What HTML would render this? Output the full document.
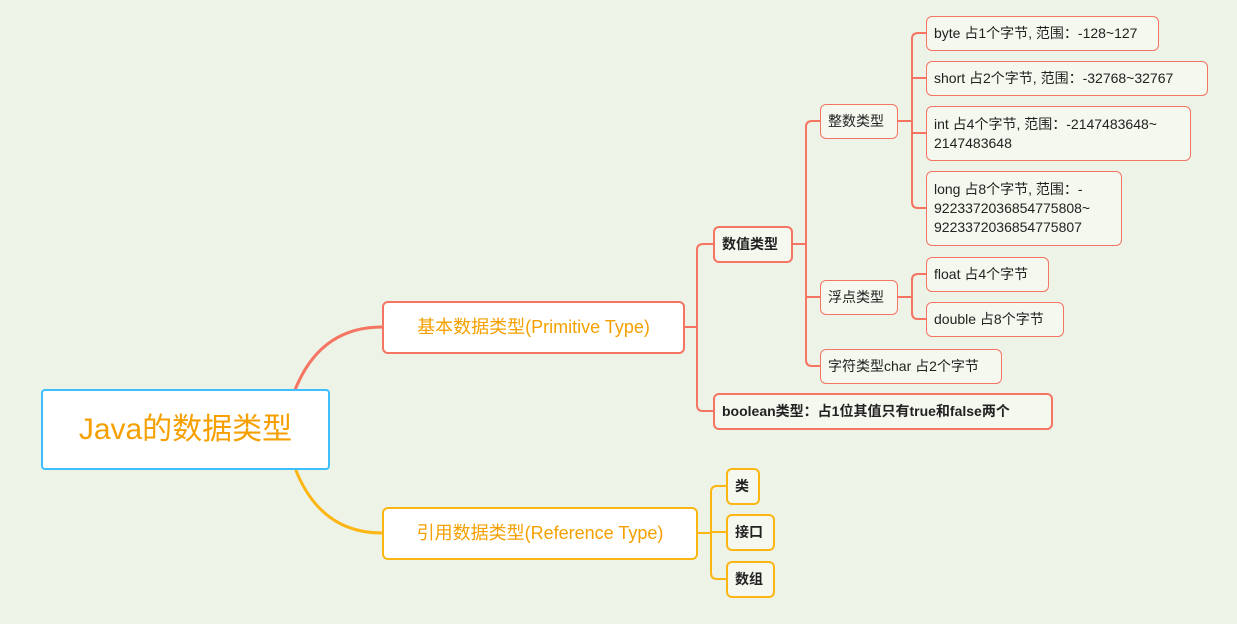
<!DOCTYPE html>
<html><head><meta charset="utf-8"><style>
body{margin:0;width:1237px;height:624px;background:#edf3e6;position:relative;overflow:hidden;font-family:"Liberation Sans","Noto Sans CJK SC",sans-serif;}
.b{position:absolute;box-sizing:border-box;display:flex;align-items:center;padding-left:7px;color:#222;font-size:14px;background:#f4f8ee;border:1px solid #f57462;border-radius:6px;line-height:19px;}
.t{font-weight:bold;border-width:2px;}
.y{border-color:#fbb614;font-weight:bold;border-width:2px;}
svg{position:absolute;left:0;top:0}
</style></head><body>
<svg width="1237" height="624" fill="none">
<path d="M295 390 Q320 327 382 327" stroke="#f57462" stroke-width="3"/>
<path d="M295 468 Q320 533 382 533" stroke="#fbb614" stroke-width="3"/>
<g stroke="#f57462" stroke-width="2">
<path d="M684 327 H697 M713 244 H703 Q697 244 697 250 V405 Q697 411 703 411 H713"/>
<path d="M792 244 H806 M820 121 H812 Q806 121 806 127 V360 Q806 366 812 366 H820 M806 297 H820"/>
<path d="M897 121 H912 M926 33 H918 Q912 33 912 39 V202 Q912 208 918 208 H926 M912 78 H926 M912 133 H926"/>
<path d="M897 297 H912 M926 274 H918 Q912 274 912 280 V313 Q912 319 918 319 H926"/>
</g>
<path d="M697 533 H711 M726 486 H717 Q711 486 711 492 V573 Q711 579 717 579 H726 M711 532 H726" stroke="#fbb614" stroke-width="2"/>
</svg>
<div class="b" style="left:41px;top:389px;width:289px;height:81px;background:#fff;border:2px solid #3ebfff;border-radius:4px;justify-content:center;padding:0;color:#f5a000;font-size:30px">Java的数据类型</div>
<div class="b" style="left:382px;top:301px;width:303px;height:53px;background:#fff;border:2px solid #f57462;border-radius:6px;justify-content:center;padding:0;color:#f5a000;font-size:18px">基本数据类型(Primitive Type)</div>
<div class="b" style="left:382px;top:507px;width:316px;height:53px;background:#fff;border:2px solid #fbb614;border-radius:6px;justify-content:center;padding:0;color:#f5a000;font-size:18px">引用数据类型(Reference Type)</div>
<div class="b t" style="left:713px;top:226px;width:80px;height:37px">数值类型</div>
<div class="b t" style="left:713px;top:393px;width:340px;height:37px">boolean类型：占1位其值只有true和false两个</div>
<div class="b" style="left:820px;top:104px;width:78px;height:35px">整数类型</div>
<div class="b" style="left:820px;top:280px;width:78px;height:35px">浮点类型</div>
<div class="b" style="left:820px;top:349px;width:182px;height:35px">字符类型char 占2个字节</div>
<div class="b" style="left:926px;top:16px;width:233px;height:35px">byte 占1个字节, 范围：-128~127</div>
<div class="b" style="left:926px;top:61px;width:282px;height:35px">short 占2个字节, 范围：-32768~32767</div>
<div class="b" style="left:926px;top:106px;width:265px;height:55px">int 占4个字节, 范围：-2147483648~<br>2147483648</div>
<div class="b" style="left:926px;top:171px;width:196px;height:75px">long 占8个字节, 范围：-<br>9223372036854775808~<br>9223372036854775807</div>
<div class="b" style="left:926px;top:257px;width:123px;height:35px">float 占4个字节</div>
<div class="b" style="left:926px;top:302px;width:138px;height:35px">double 占8个字节</div>
<div class="b y" style="left:726px;top:468px;width:34px;height:37px">类</div>
<div class="b y" style="left:726px;top:514px;width:49px;height:37px">接口</div>
<div class="b y" style="left:726px;top:561px;width:49px;height:37px">数组</div>
</body></html>
